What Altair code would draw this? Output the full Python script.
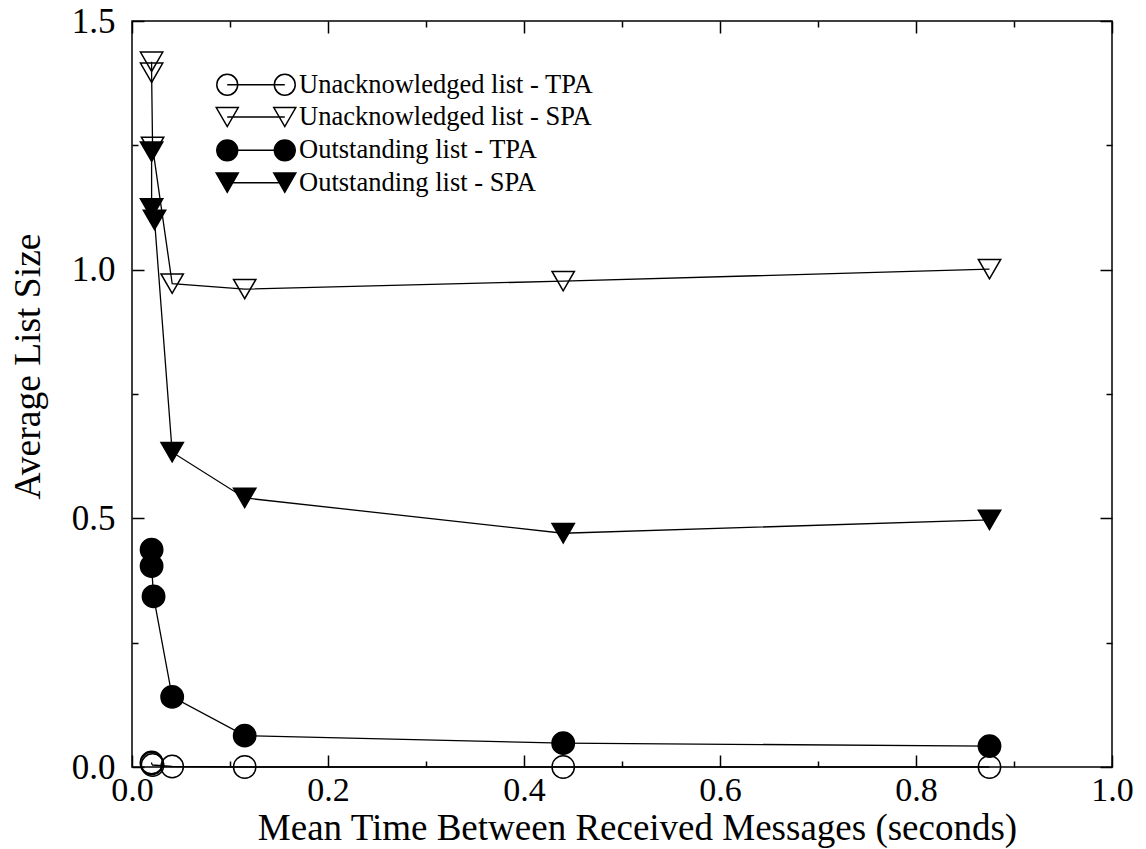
import altair as alt
import pandas as pd

series_names = [
    "Unacknowledged list - TPA",
    "Unacknowledged list - SPA",
    "Outstanding list - TPA",
    "Outstanding list - SPA",
]

x_unack_tpa = [0.020, 0.020, 0.021, 0.041, 0.115, 0.440, 0.875]
y_unack_tpa = [0.009, 0.007, 0.004, 0.001, 0.000, 0.000, 0.000]

x_unack_spa = [0.020, 0.020, 0.021, 0.041, 0.115, 0.440, 0.875]
y_unack_spa = [1.418, 1.396, 1.247, 0.972, 0.961, 0.977, 1.001]

x_out_tpa = [0.020, 0.020, 0.022, 0.041, 0.115, 0.440, 0.875]
y_out_tpa = [0.437, 0.404, 0.343, 0.141, 0.063, 0.048, 0.042]

x_out_spa = [0.020, 0.020, 0.023, 0.041, 0.115, 0.440, 0.875]
y_out_spa = [1.237, 1.123, 1.100, 0.633, 0.541, 0.470, 0.497]

x_major = [0.0, 0.2, 0.4, 0.6, 0.8, 1.0]
x_minor = [0.1, 0.3, 0.5, 0.7, 0.9]
y_major = [0.0, 0.5, 1.0, 1.5]
y_minor = [0.25, 0.75, 1.25]

rows = []
for name, xs, ys in zip(series_names,
                        [x_unack_tpa, x_unack_spa, x_out_tpa, x_out_spa],
                        [y_unack_tpa, y_unack_spa, y_out_tpa, y_out_spa]):
    for i, (xv, yv) in enumerate(zip(xs, ys)):
        rows.append({"series": name, "x": xv, "y": yv, "order": i})
df = pd.DataFrame(rows)

W, H = 980, 746
FONT = "Liberation Serif"

xscale = alt.Scale(domain=[0, 1], nice=False, zero=False)
yscale = alt.Scale(domain=[0, 1.5], nice=False, zero=False)

fill_range = ["transparent", "transparent", "black", "black"]
stroke_range = ["black", "black", "black", "black"]
shape_range = ["circle", "triangle-down", "circle", "triangle-down"]

# legend glyphs: line with a marker at each end
r = 0.95
d = 5.23
def circ(cx):
    return f"M{cx + r},0A{r},{r} 0 1 1 {cx - r},0A{r},{r} 0 1 1 {cx + r},0Z"
def tri(cx):
    return f"M{cx - 1},-0.866L{cx + 1},-0.866L{cx},0.866Z"
line_path = f"M0,0L{d},0"
legend_paths = [
    line_path + circ(0) + circ(d),
    line_path + tri(0) + tri(d),
    line_path + circ(0) + circ(d),
    line_path + tri(0) + tri(d),
]


def tick_axis(orient, offset, values, size):
    return alt.Axis(orient=orient, offset=offset, values=values, tickSize=size,
                    labels=False, domain=False, grid=False, ticks=True,
                    title=None, tickColor="black", tickWidth=1.5)


base = alt.Chart(df)

lines = base.mark_line(color="black", strokeWidth=1.3).encode(
    x=alt.X("x:Q", scale=xscale, axis=alt.Axis(
        orient="bottom", values=x_major, format=".1f", ticks=False,
        domain=False, grid=False, labelPadding=6, labelFlush=False,
        labelOverlap=False, labelFontSize=34,
        title="Mean Time Between Received Messages (seconds)",
        titlePadding=3, titleX=505, titleFontSize=37)),
    y=alt.Y("y:Q", scale=yscale, axis=alt.Axis(
        orient="left", values=y_major, format=".1f", ticks=False,
        domain=False, grid=False, labelPadding=17, labelFlush=False,
        labelOverlap=False, labelFontSize=35, title="Average List Size",
        titlePadding=24, titleY=345)),
    detail="series:N",
    order="order:Q",
)

points = base.mark_point(filled=True, size=500, stroke="black",
                         strokeWidth=1.5, opacity=1).encode(
    x=alt.X("x:Q", scale=xscale, axis=tick_axis("top", -H, x_major, 12)),
    y=alt.Y("y:Q", scale=yscale, axis=tick_axis("right", -W, y_major, 12)),
    shape=alt.Shape("series:N", scale=alt.Scale(domain=series_names, range=shape_range), legend=None),
    fill=alt.Fill("series:N", scale=alt.Scale(domain=series_names, range=fill_range), legend=None),
)

leg = alt.Legend(orient="none", legendX=82, legendY=50.5, title=None,
                 labelFont=FONT, labelFontSize=26.5, labelColor="black",
                 labelOffset=58.5, labelLimit=800, symbolSize=484,
                 symbolStrokeWidth=1.5, symbolStrokeColor="black",
                 symbolOpacity=1, rowPadding=5.3, padding=0)

legend_layer = base.mark_point(filled=True, size=484, stroke="black",
                               strokeWidth=1.5, opacity=0).encode(
    x=alt.X("x:Q", scale=xscale, axis=tick_axis("top", -H, x_minor, 6)),
    y=alt.Y("y:Q", scale=yscale, axis=tick_axis("right", -W, y_minor, 6)),
    shape=alt.Shape("series:N", scale=alt.Scale(domain=series_names, range=legend_paths), legend=leg),
    fill=alt.Fill("series:N", scale=alt.Scale(domain=series_names, range=fill_range), legend=leg),
    stroke=alt.Stroke("series:N", scale=alt.Scale(domain=series_names, range=stroke_range), legend=leg),
)

inv1 = base.mark_point(opacity=0).encode(
    x=alt.X("x:Q", scale=xscale, axis=tick_axis("bottom", -H, x_major, 12)),
    y=alt.Y("y:Q", scale=yscale, axis=tick_axis("left", -W, y_major, 12)),
)
inv2 = base.mark_point(opacity=0).encode(
    x=alt.X("x:Q", scale=xscale, axis=tick_axis("bottom", -H, x_minor, 6)),
    y=alt.Y("y:Q", scale=yscale, axis=tick_axis("left", -W, y_minor, 6)),
)

chart = alt.layer(lines, points, legend_layer, inv1, inv2).resolve_scale(
    shape="independent", fill="independent", stroke="independent"
).resolve_axis(
    x="independent", y="independent"
).properties(
    width=W, height=H,
    autosize=alt.AutoSizeParams(type="none"),
    padding={"left": 132, "top": 21, "right": 34, "bottom": 82},
    background="white",
).configure_view(
    stroke="black", strokeWidth=1.5
).configure_axis(
    labelFont=FONT, labelFontSize=36, labelColor="black",
    titleFont=FONT, titleFontSize=37.5, titleColor="black",
    titleFontWeight="normal", grid=False,
)

chart.save("out.html", embed_options={"renderer": "svg", "actions": False})
